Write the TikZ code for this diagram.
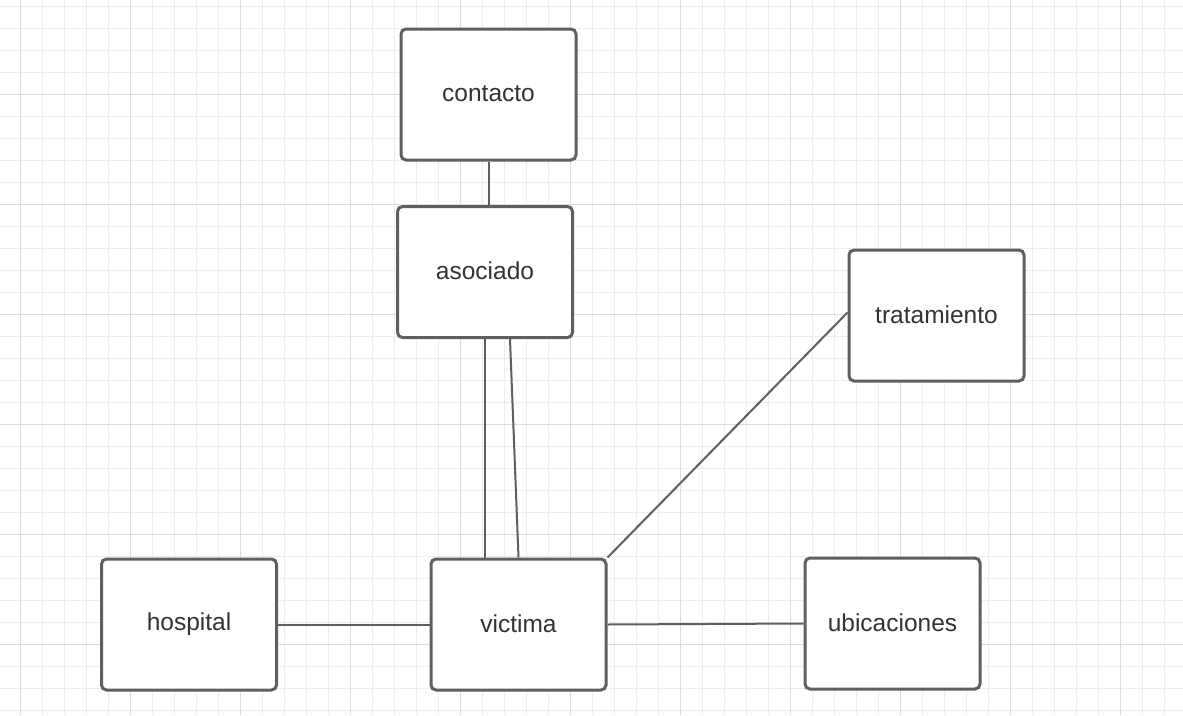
\documentclass[tikz,border=0pt]{standalone}
\usepackage{fontspec}
\setmainfont{Liberation Sans}
\definecolor{edgegray}{HTML}{5F5F5F}
\definecolor{textgray}{HTML}{333333}
\definecolor{gridminor}{HTML}{EDEDED}
\definecolor{gridmajor}{HTML}{DCDCDC}
\begin{document}
\begin{tikzpicture}[x=1pt,y=-1pt,
  entity/.style={draw=edgegray, line width=3pt, rounded corners=5pt, fill=white,
    minimum width=175pt, minimum height=131pt, inner sep=0pt,
    text=textgray, font=\fontsize{24.5}{28}\selectfont},
  link/.style={draw=edgegray, line width=2pt}]
\useasboundingbox (0,0) rectangle (1183,715);
\fill[white] (0,0) rectangle (1183,715);
% minor grid
\foreach \x in {-2,20,...,1190} \draw[gridminor, line width=1pt] (\x,0) -- (\x,715);
\foreach \y in {6,28,...,720} \draw[gridminor, line width=1pt] (0,\y) -- (1183,\y);
% major grid
\foreach \x in {20,130,...,1190} \draw[gridmajor, line width=1pt] (\x,0) -- (\x,715);
\foreach \y in {94,204,...,720} \draw[gridmajor, line width=1pt] (0,\y) -- (1183,\y);

\node[entity] (contacto) at (488.5,94.5) {\raisebox{2pt}{contacto}};
\node[entity] (asociado) at (485,272) {\raisebox{2pt}{asociado}};
\node[entity] (tratamiento) at (936.5,315.5) {\raisebox{2pt}{tratamiento}};
\node[entity] (hospital) at (189,624.5) {\raisebox{2pt}{hospital}};
\node[entity] (victima) at (518.5,624.5) {\raisebox{2pt}{victima}};
\node[entity] (ubicaciones) at (892.5,623.5) {\raisebox{2pt}{ubicaciones}};

\draw[link] (contacto.south) -- (contacto.south |- asociado.north);
\draw[link] (asociado.south) -- (asociado.south |- victima.north);
\draw[link] ([xshift=25pt]asociado.south) -- (victima.north);
\draw[link] ([yshift=3pt]tratamiento.west) -- (victima.north east);
\draw[link] (hospital.east) -- (victima.west);
\draw[link] (victima.east) -- (ubicaciones.west);
\end{tikzpicture}
\end{document}
